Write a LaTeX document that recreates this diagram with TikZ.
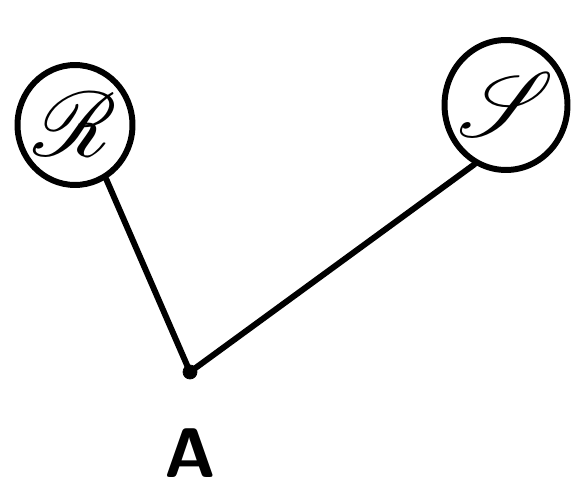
\documentclass[tikz,border=0pt]{standalone}
\usepackage{mathrsfs}
\usetikzlibrary{shapes.geometric}
\tikzset{
  loop/.style={ellipse, draw, line width=3.4pt, inner sep=0pt},
  wire/.style={line width=3.4pt, line cap=round}
}
\newcommand{\bigscr}[1]{\scalebox{5.2}{$\mathscr{#1}$}}
\begin{document}
\begin{tikzpicture}[x=0.02cm, y=-0.02cm]
  \useasboundingbox (0,0) rectangle (577,489);
  \node[loop, minimum width=2.3cm, minimum height=2.4cm] (R) at (75,125) {};
  \node (Rl) at (R.center) {\bigscr{R}};
  \node[loop, minimum width=2.46cm, minimum height=2.6cm] (S) at (506,105) {};
  \node (Sl) at (S.center) {\bigscr{S}};
  \coordinate (A) at (190,372);
  \draw[wire] (R.-60) -- (A) -- (S.-118);
  \filldraw (A) circle (0.14cm);
  \node[inner sep=0pt, font=\fontsize{40}{40}\selectfont\sffamily] (Alab) at (190,453) {\textbf{A}};
\end{tikzpicture}
\end{document}
